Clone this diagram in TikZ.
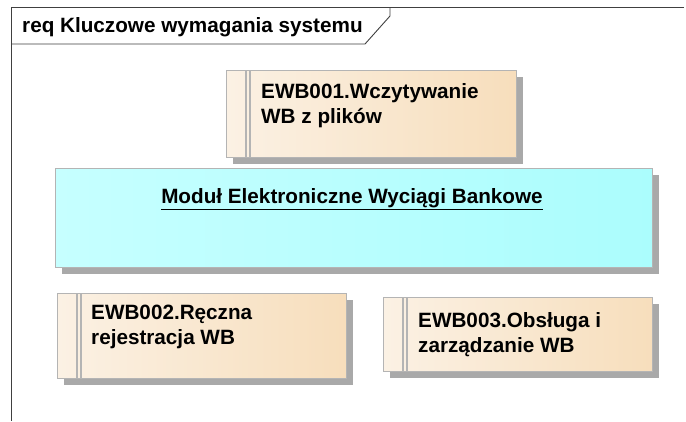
\documentclass[tikz,border=0pt]{standalone}
\usepackage{fontspec}
\setmainfont{Liberation Sans}
\usetikzlibrary{shadows}
\definecolor{reqleft}{HTML}{FBF1E4}
\definecolor{reqright}{HTML}{F7DEBC}
\definecolor{modleft}{HTML}{C6FFFF}
\definecolor{modright}{HTML}{ABFDFD}
\definecolor{boxborder}{HTML}{B4B4B4}
\definecolor{boxshadow}{HTML}{A9A9A9}
\begin{document}
\begin{tikzpicture}[x=1pt,y=-1pt]
\tikzstyle{frame line}=[draw=black!75, line width=0.9pt]
\tikzstyle{box}=[draw=boxborder, line width=1.2pt, rectangle, anchor=north west, inner sep=0pt,
  drop shadow={shadow xshift=6pt, shadow yshift=-6pt, fill=boxshadow, opacity=1}]
\tikzstyle{req box}=[box, left color=reqleft, right color=reqright]
\tikzstyle{module box}=[box, left color=modleft, right color=modright]
\tikzstyle{req bar}=[draw=boxborder, line width=1.2pt]
\tikzstyle{label text}=[font=\bfseries\fontsize{20.7}{25}\selectfont, inner sep=0pt, align=left]

% Page and background
\path[fill=white] (0,0) rectangle (686,421);
\useasboundingbox (0,0) rectangle (686,421);

% Draw the diagram frame with its name tab
\draw[frame line] (684,7) -- (11,7) -- (11,421);
\draw[frame line] (11,44) -- (365,44) -- (390,16) -- (390,7);
\node[label text, anchor=base west] (title) at (22,32) {req Kluczowe wymagania systemu};

% Draw the module box
\node[module box, minimum width=597, minimum height=99] (modul) at (55,168) {};
\node[label text, anchor=base] (modul-text) at (352,203) {\underline{Moduł Elektroniczne Wyciągi Bankowe}};

% Draw the requirement boxes
\node[req box, minimum width=290, minimum height=87] (req1) at (226,70) {};
\node[req box, minimum width=289, minimum height=85] (req2) at (57,293) {};
\node[req box, minimum width=269, minimum height=74] (req3) at (383,297) {};

% Draw the double bar at the left of every requirement box
\foreach \name in {req1,req2,req3}
  \foreach \dx in {20,24}
    \draw[req bar] ([xshift=\dx pt]\name.north west) -- ([xshift=\dx pt]\name.south west);

% Write the requirement names
\node[label text, anchor=north west] (req1-text) at (261,83) {EWB001.Wczytywanie\\WB z plików};
\node[label text, anchor=north west] (req2-text) at (91,305) {EWB002.Ręczna\\rejestracja WB};
\node[label text, anchor=north west] (req3-text) at (418,312) {EWB003.Obsługa i\\zarządzanie WB};

\end{tikzpicture}
\end{document}
